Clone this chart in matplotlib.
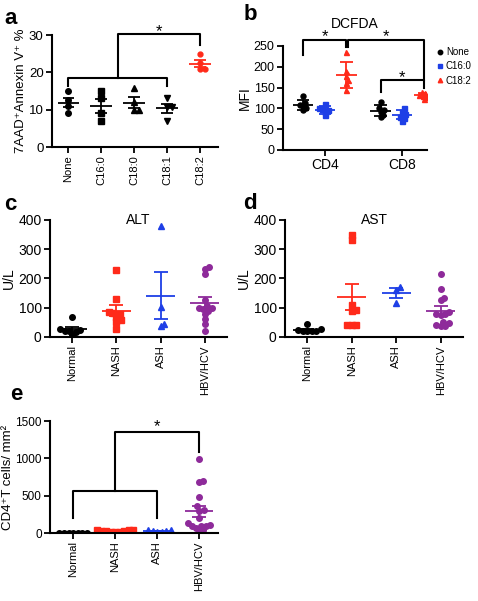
import numpy as np
import matplotlib.pyplot as plt

plt.rcParams['font.family'] = ['Liberation Sans', 'DejaVu Sans']

# ---- data ----
# panel a: 7AAD+Annexin V+ %
fa_labels = ['None', 'C16:0', 'C18:0', 'C18:1', 'C18:2']
fa_values = [
    [15.0, 12.5, 11.0, 9.0],
    [15.0, 13.2, 9.1, 7.0],
    [15.8, 12.1, 9.8, 9.8],
    [13.2, 10.6, 10.6, 7.0],
    [24.9, 22.4, 20.9, 20.9],
]

# panel b: DCFDA MFI
b_groups = ['CD4', 'CD8']
b_series = ['None', 'C16:0', 'C18:2']
b_values = {
    'None': [[131, 112, 108, 105, 100, 95], [115, 100, 96, 92, 85, 80]],
    'C16:0': [[110, 100, 98, 95, 92, 83], [100, 92, 86, 80, 78, 70]],
    'C18:2': [[236, 190, 178, 168, 160, 145], [140, 136, 132, 130, 127, 122]],
}

# panels c, d, e
groups = ['Normal', 'NASH', 'ASH', 'HBV/HCV']
alt = [
    [69, 28, 24, 22, 20, 18, 8],
    [229, 129, 84, 82, 80, 70, 58, 52, 29],
    [379, 103, 46, 37],
    [240, 232, 215, 128, 105, 100, 98, 95, 90, 80, 62, 45, 20],
]
ast = [
    [44, 26, 23, 22, 21, 20, 20],
    [350, 330, 110, 93, 90, 42, 42, 42],
    [170, 162, 115],
    [215, 163, 135, 125, 85, 80, 78, 75, 52, 48, 40, 38, 38],
]
cd4 = [
    [3, 2, 2, 1, 1, 0, 0],
    [45, 40, 35, 30, 28, 25, 20, 15, 10],
    [40, 35, 30, 25, 20, 15],
    [985, 700, 680, 480, 355, 310, 300, 200, 130, 110, 100, 95, 90, 70, 40, 20],
]

BLUE = '#1e3fe6'
RED = '#ff2a1a'
PURPLE = '#8e2a9a'
grp_colors = ['black', RED, BLUE, PURPLE]
grp_markers = ['o', 's', '^', 'o']


def swarm(ax, xc, vals, d=4.6):
    # simple beeswarm layout in pixel space
    pts = ax.transData.transform(np.column_stack([np.full(len(vals), xc), vals]))
    x0 = pts[0, 0]
    ys = pts[:, 1]
    placed = []
    xs = np.zeros(len(vals))
    for i in np.argsort(ys):
        cands = [0.0]
        for px, py in placed:
            dy = ys[i] - py
            if abs(dy) < d:
                dx = np.sqrt(d * d - dy * dy)
                cands += [px + dx, px - dx]
        cands.sort(key=abs)
        for c in cands:
            if all((c - px) ** 2 + (ys[i] - py) ** 2 >= d * d - 1e-6 for px, py in placed):
                xs[i] = c
                break
        placed.append((xs[i], ys[i]))
    back = ax.transData.inverted().transform(np.column_stack([x0 + xs, ys]))
    return back[:, 0]


def mean_err(ax, x, vals, color, hw, cw, kind='sem', lw=1.3):
    v = np.array(vals, float)
    m = v.mean()
    e = v.std(ddof=1)
    if kind == 'sem':
        e = e / np.sqrt(len(v))
    ax.hlines(m, x - hw, x + hw, color=color, lw=lw, zorder=3)
    ax.vlines(x, m - e, m + e, color=color, lw=lw, zorder=3)
    ax.hlines([m - e, m + e], x - cw, x + cw, color=color, lw=lw, zorder=3)


def style(ax):
    for s in ['top', 'right']:
        ax.spines[s].set_visible(False)
    for s in ['left', 'bottom']:
        ax.spines[s].set_linewidth(1.5)
    ax.tick_params(width=1.3, length=4, pad=2)


def bracket(ax, xs, ys):
    ax.plot(xs, ys, color='black', lw=1.5, clip_on=False, zorder=4)


fig = plt.figure(figsize=(4.78, 6.01), dpi=100)
W, H = 478, 601


def axes_px(l, t, r, b):
    return fig.add_axes([l / W, 1 - b / H, (r - l) / W, (b - t) / H])


# ---- a ----
ax = axes_px(52, 35, 218, 147)
style(ax)
ax.set_xlim(-0.5, 4.55)
ax.set_ylim(0, 30)
a_markers = ['o', 's', '^', 'v', 'o']
for i, vals in enumerate(fa_values):
    col = RED if i == 4 else 'black'
    ms = 3.5 if i == 4 else 4
    xs = swarm(ax, i, vals)
    ax.plot(xs, vals, a_markers[i], color=col, ms=ms, ls='none', zorder=2)
    mean_err(ax, i, vals, col, 0.33, 0.18)
ax.set_xticks(range(5))
ax.set_xticklabels(fa_labels, rotation=90, fontsize=8)
ax.set_yticks([0, 10, 20, 30])
ax.tick_params(axis='y', labelsize=9.5)
ax.set_ylabel('7AAD⁺Annexin V⁺ %', fontsize=9.5, labelpad=1)
bracket(ax, [0, 0, 3, 3], [16.3, 18.4, 18.4, 16.3])
bracket(ax, [1.5, 1.5, 4, 4], [18.4, 30.2, 30.2, 27.3])
ax.text(2.75, 30.9, '*', ha='center', va='center', fontsize=12)

# ---- b ----
ax = axes_px(283, 46, 427, 150)
style(ax)
ax.set_xlim(-0.54, 1.32)
ax.set_ylim(0, 250)
offs = [-0.28, 0.0, 0.28]
b_colors = ['black', BLUE, RED]
b_markers = ['o', 's', '^']
handles = []
for k, name in enumerate(b_series):
    for g in range(2):
        vals = b_values[name][g]
        x = g + offs[k]
        xs = swarm(ax, x, vals, d=3.6)
        ax.plot(xs, vals, b_markers[k], color=b_colors[k], ms=3.6, ls='none', zorder=2)
        mean_err(ax, x, vals, b_colors[k], 0.13, 0.08, kind='sd')
    handles.append(plt.Line2D([], [], marker=b_markers[k], color=b_colors[k], ls='none', ms=3.2, label=name))
ax.set_xticks([0, 1])
ax.set_xticklabels(b_groups, fontsize=10)
ax.set_yticks([0, 50, 100, 150, 200, 250])
ax.tick_params(axis='y', labelsize=9)
ax.set_ylabel('MFI', fontsize=10, labelpad=1)
ax.text(0.5, 1.21, 'DCFDA', transform=ax.transAxes, ha='center', va='center', fontsize=10)
bracket(ax, [-0.28, -0.28, 0.27, 0.27], [228, 265, 265, 248])
bracket(ax, [0.30, 0.30, 1.28, 1.28], [248, 265, 265, 168])
bracket(ax, [0.72, 0.72, 1.28, 1.28], [140, 168, 168, 148])
ax.text(0.0, 272, '*', ha='center', va='center', fontsize=12)
ax.text(0.79, 272, '*', ha='center', va='center', fontsize=12)
ax.text(1.0, 175, '*', ha='center', va='center', fontsize=12)
fig.legend(handles=handles, loc='upper left', bbox_to_anchor=(438 / W, 1 - 47 / H),
           frameon=False, fontsize=7, handlelength=0.5, handletextpad=0.3,
           labelspacing=0.45, borderpad=0, borderaxespad=0)


# ---- c, d, e ----
def liver_panel(ax, data, ylim, yticks, ylabel, title=None, xlim=(-0.5, 3.5)):
    style(ax)
    ax.set_xlim(*xlim)
    ax.set_ylim(*ylim)
    for i, vals in enumerate(data):
        xs = swarm(ax, i, vals)
        ax.plot(xs, vals, grp_markers[i], color=grp_colors[i], ms=4, ls='none', zorder=2)
        mean_err(ax, i, vals, grp_colors[i], 0.33, 0.16)
    ax.set_xticks(range(4))
    ax.set_xticklabels(groups, rotation=90, fontsize=8)
    ax.set_yticks(yticks)
    ax.tick_params(axis='y', labelsize=10)
    ax.set_ylabel(ylabel, fontsize=10, labelpad=2)
    if title:
        ax.text(0.5, 1.0, title, transform=ax.transAxes, ha='center', va='center', fontsize=10)


ax = axes_px(50, 220, 227, 337)
liver_panel(ax, alt, (0, 400), [0, 100, 200, 300, 400], 'U/L', 'ALT')

ax = axes_px(285, 220, 463, 337)
liver_panel(ax, ast, (0, 400), [0, 100, 200, 300, 400], 'U/L', 'AST')

ax = axes_px(50, 421, 218, 533)
liver_panel(ax, cd4, (0, 1500), [0, 500, 1000, 1500], 'CD4⁺T cells/ mm²', xlim=(-0.55, 3.45))
ax.tick_params(axis='y', labelsize=8.5)
ax.yaxis.label.set_size(9.5)
ax.yaxis.labelpad = 1
bracket(ax, [0, 0, 2, 2], [200, 568, 568, 200])
bracket(ax, [1, 1, 3, 3], [568, 1354, 1354, 1087])
ax.text(2.0, 1420, '*', ha='center', va='center', fontsize=12)

# panel letters
for lab, x, y in [('a', 4, 18), ('b', 244, 14), ('c', 4, 205), ('d', 243, 204), ('e', 10, 395)]:
    fig.text(x / W, 1 - y / H, lab, fontsize=16, fontweight='bold', ha='left', va='center')

fig.savefig('out.png', dpi=100)
